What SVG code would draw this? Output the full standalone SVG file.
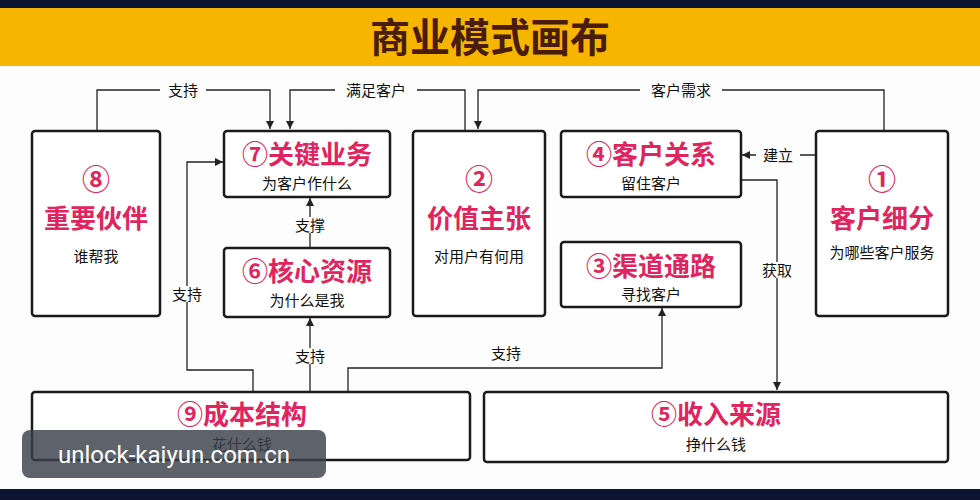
<svg xmlns="http://www.w3.org/2000/svg" width="980" height="500" viewBox="0 0 980 500">
<defs>
<marker id="ar" viewBox="0 0 10 10" refX="10" refY="5" markerWidth="8" markerHeight="10" orient="auto" markerUnits="userSpaceOnUse"><path d="M0,0 L10,5 L0,10 z" fill="#222"/></marker>
<style>
.box{fill:#fff;stroke:#1a1a1a;stroke-width:2.5}
.t{font-family:"Noto Sans CJK SC","Noto Sans",sans-serif;font-weight:bold;fill:#e0245e;text-anchor:middle}
.s{font-family:"Noto Sans CJK SC","Noto Sans",sans-serif;font-size:15px;fill:#111;text-anchor:middle}
.c{fill:none;stroke:#222;stroke-width:1.3}
.l{font-family:"Noto Sans CJK SC","Noto Sans",sans-serif;font-size:15px;fill:#111;text-anchor:middle}
</style>
</defs>
<rect width="980" height="500" fill="#fdfdfd"/>
<rect width="980" height="8" fill="#0d1430"/>
<rect y="8" width="980" height="58" fill="#f7b500"/>
<text x="490" y="52" font-family="'Noto Sans CJK SC',sans-serif" font-weight="bold" font-size="40" fill="#4a1c0c" text-anchor="middle">商业模式画布</text>
<rect y="489" width="980" height="11" fill="#0d1430"/>
<g id="connectors">
<path class="c" d="M97,131 V90 H270 V129" marker-end="url(#ar)"/>
<rect x="160" y="82" width="46" height="16" fill="#fdfdfd"/><text class="l" x="183" y="96">支持</text>
<path class="c" d="M465,131 V90 H290 V129" marker-end="url(#ar)"/>
<rect x="335" y="82" width="82" height="16" fill="#fdfdfd"/><text class="l" x="376" y="96">满足客户</text>
<path class="c" d="M884,131 V90 H478 V129" marker-end="url(#ar)"/>
<rect x="640" y="82" width="82" height="16" fill="#fdfdfd"/><text class="l" x="681" y="96">客户需求</text>
<path class="c" d="M816,155 H742" marker-end="url(#ar)"/>
<rect x="756" y="147" width="44" height="16" fill="#fdfdfd"/><text class="l" x="778" y="161">建立</text>
<path class="c" d="M741,180 H777 V390" marker-end="url(#ar)"/>
<rect x="756" y="262" width="44" height="16" fill="#fdfdfd"/><text class="l" x="777" y="276">获取</text>
<path class="c" d="M310,248 V198" marker-end="url(#ar)"/>
<rect x="288" y="217" width="44" height="16" fill="#fdfdfd"/><text class="l" x="310" y="231">支撑</text>
<path class="c" d="M310,392 V318" marker-end="url(#ar)"/>
<rect x="288" y="348" width="44" height="16" fill="#fdfdfd"/><text class="l" x="310" y="362">支持</text>
<path class="c" d="M253,392 V370 H187 V162 H223" marker-end="url(#ar)"/>
<rect x="165" y="286" width="44" height="16" fill="#fdfdfd"/><text class="l" x="187" y="300">支持</text>
<path class="c" d="M348,392 V368 H662 V308" marker-end="url(#ar)"/>
<rect x="484" y="345" width="44" height="16" fill="#fdfdfd"/><text class="l" x="506" y="359">支持</text>
</g>
<g id="n8"><rect class="box" x="32" y="131" width="128" height="185" rx="3"/><text class="t" x="96" y="190" font-size="28">⑧</text><text class="t" x="96" y="228" font-size="26">重要伙伴</text><text class="s" x="96" y="262">谁帮我</text></g>
<g id="n7"><rect class="box" x="224" y="131" width="166" height="66" rx="3"/><text class="t" x="307" y="164" font-size="26">⑦关键业务</text><text class="s" x="307" y="189">为客户作什么</text></g>
<g id="n6"><rect class="box" x="224" y="248" width="166" height="69" rx="3"/><text class="t" x="307" y="281" font-size="26">⑥核心资源</text><text class="s" x="307" y="306">为什么是我</text></g>
<g id="n2"><rect class="box" x="413" y="131" width="132" height="185" rx="3"/><text class="t" x="479" y="190" font-size="28">②</text><text class="t" x="479" y="228" font-size="26">价值主张</text><text class="s" x="479" y="262">对用户有何用</text></g>
<g id="n4"><rect class="box" x="561" y="131" width="180" height="66" rx="3"/><text class="t" x="651" y="164" font-size="26">④客户关系</text><text class="s" x="651" y="189">留住客户</text></g>
<g id="n3"><rect class="box" x="561" y="242" width="180" height="65" rx="3"/><text class="t" x="651" y="276" font-size="26">③渠道通路</text><text class="s" x="651" y="300">寻找客户</text></g>
<g id="n1"><rect class="box" x="816" y="131" width="132" height="185" rx="3"/><text class="t" x="882" y="190" font-size="28">①</text><text class="t" x="882" y="228" font-size="26">客户细分</text><text class="s" x="882" y="258">为哪些客户服务</text></g>
<g id="n9"><rect class="box" x="32" y="392" width="438" height="68" rx="3"/><text class="t" x="242" y="424" font-size="26">⑨成本结构</text><text class="s" x="242" y="450">花什么钱</text></g>
<g id="n5"><rect class="box" x="484" y="392" width="464" height="70" rx="3"/><text class="t" x="716" y="424" font-size="26">⑤收入来源</text><text class="s" x="716" y="450">挣什么钱</text></g>
<g id="watermark"><rect x="22" y="430" width="304" height="48" rx="8" fill="#3a3f4a" fill-opacity="0.82"/><text x="174" y="463" font-family="Roboto,'Noto Sans',sans-serif" font-size="24" fill="#fff" text-anchor="middle">unlock-kaiyun.com.cn</text></g>
</svg>
